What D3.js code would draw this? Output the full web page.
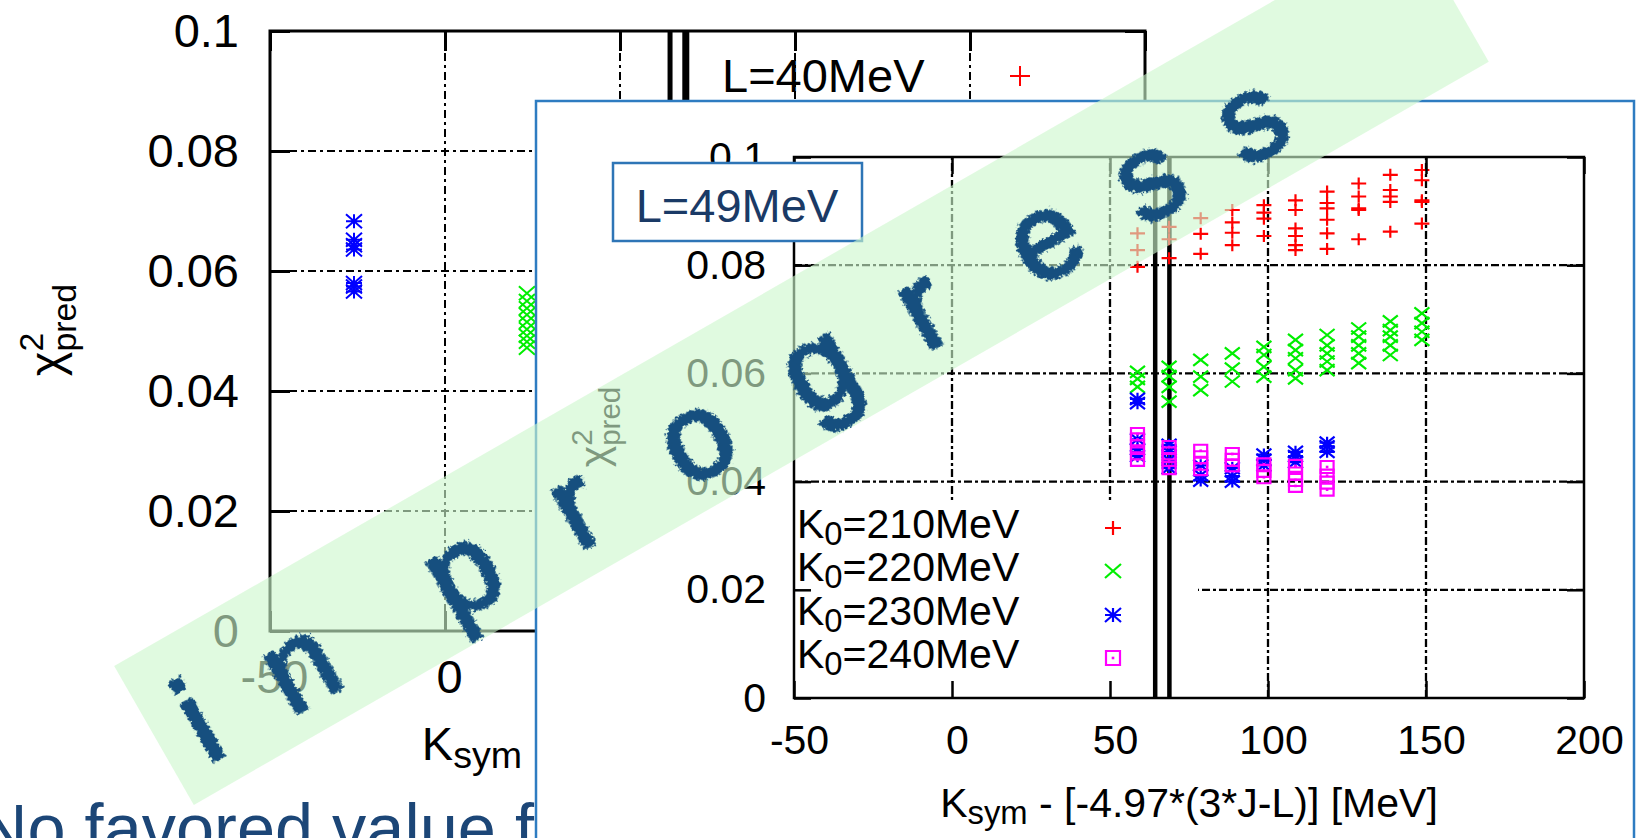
<!DOCTYPE html>
<html>
<head>
<meta charset="utf-8">
<script src="https://cdn.jsdelivr.net/npm/d3@7"></script>
<style>
  html, body { margin: 0; padding: 0; background: #fff; overflow: hidden; }
  svg { display: block; }
  text { font-family: "Liberation Sans", Arial, Helvetica, sans-serif; }
</style>
</head>
<body>
<svg id="slide" width="1641" height="838"></svg>
<script>
// ---------------- data ----------------
const tickValuesX = [-50, 0, 50, 100, 150, 200];
const tickLabelsX = ["-50", "0", "50", "100", "150", "200"];
const tickValuesY = [0, 0.02, 0.04, 0.06, 0.08, 0.1];
const tickLabelsY = ["0", "0.02", "0.04", "0.06", "0.08", "0.1"];
const refLines = [64.3, 68.8];            // the two vertical reference lines

// L=40MeV panel (mostly covered)
const backColumns = [-26, 23.4];
const backK230 = [0.0683, 0.0652, 0.0643, 0.0636, 0.0580, 0.0574, 0.0566];
const backK220 = [0.0563, 0.0550, 0.0538, 0.0527, 0.0515, 0.0503, 0.0492, 0.0482, 0.0472];

// L=49MeV panel
const ksymColumns = [58.7, 68.7, 78.7, 88.7, 98.7, 108.7, 118.7, 128.7, 138.7, 148.7];
const k210 = [
  [0.0859, 0.0828, 0.0797],
  [0.0871, 0.0848, 0.0813],
  [0.0887, 0.0858, 0.0821],
  [0.0902, 0.0879, 0.0860, 0.0837],
  [0.0911, 0.0897, 0.0886, 0.0854],
  [0.0920, 0.0902, 0.0868, 0.0854, 0.0837, 0.0828],
  [0.0936, 0.0915, 0.0905, 0.0884, 0.0859, 0.0830],
  [0.0951, 0.0927, 0.0905, 0.0902, 0.0848],
  [0.0967, 0.0939, 0.0927, 0.0917, 0.0862],
  [0.0976, 0.0957, 0.0920, 0.0917, 0.0877]
];
const k220 = [
  [0.0603, 0.0590, 0.0575],
  [0.0612, 0.0595, 0.0575, 0.0548],
  [0.0625, 0.0594, 0.0569],
  [0.0637, 0.0609, 0.0585],
  [0.0649, 0.0634, 0.0612, 0.0594],
  [0.0662, 0.0643, 0.0628, 0.0606, 0.0591],
  [0.0671, 0.0652, 0.0637, 0.0622, 0.0606],
  [0.0683, 0.0668, 0.0652, 0.0637, 0.0619],
  [0.0696, 0.0680, 0.0668, 0.0652, 0.0634],
  [0.0711, 0.0693, 0.0677, 0.0662]
];
const k230 = [
  [0.0553, 0.0545, 0.0478, 0.0460, 0.0447],
  [0.0468, 0.0455, 0.0440, 0.0425],
  [0.0430, 0.0412, 0.0402],
  [0.0425, 0.0410, 0.0400],
  [0.0450, 0.0440, 0.0430],
  [0.0455, 0.0447, 0.0436],
  [0.0472, 0.0465, 0.0455]
];
const k240 = [
  [0.0488, 0.0478, 0.0465, 0.0452, 0.0440],
  [0.0464, 0.0452, 0.0440, 0.0425],
  [0.0457, 0.0445, 0.0433, 0.0423],
  [0.0451, 0.0440, 0.0430],
  [0.0432, 0.0420, 0.0408],
  [0.0429, 0.0415, 0.0403, 0.0392],
  [0.0427, 0.0411, 0.0398, 0.0385]
];
const seriesK0 = ["210", "220", "230", "240"];
const seriesColors = ["#ff0000", "#00ee00", "#0000ff", "#ff00ff"];
const seriesShapes = ["plus", "cross", "star", "box"];

const bannerText = "in progress";
const bannerLetterPos = [45, 161, 255, 349, 479, 618, 759, 879, 1020, 1140, 1258];

// ---------------- helpers ----------------
function markerPath(shape, w, h) {
  const plus = `M${-w},0H${w}M0,${-h}V${h}`;
  const cross = `M${-w},${-h}L${w},${h}M${-w},${h}L${w},${-h}`;
  if (shape === "plus") return plus;
  if (shape === "cross") return cross;
  if (shape === "star") return plus + cross;
  return `M${-w},${-h}H${w}V${h}H${-w}Z`;
}
function drawMarker(g, shape, color, x, y, w, h, sw) {
  g.append("path")
    .attr("d", markerPath(shape, w, h))
    .attr("transform", `translate(${x},${y})`)
    .attr("fill", "none").attr("stroke", color).attr("stroke-width", sw);
  if (shape === "box") {
    g.append("rect").attr("x", x - 1.3).attr("y", y - 1.3).attr("width", 2.6).attr("height", 2.6).attr("fill", color);
  }
}
function styleAxis(g, fs, sw) {
  g.select(".domain").remove();
  g.attr("font-family", null).attr("font-size", null);
  g.selectAll(".tick line").attr("stroke", "#000").attr("stroke-width", sw);
  g.selectAll(".tick text").attr("font-size", fs).attr("fill", "#000");
}
function chiLabel(g, cx, cy, fs) {
  const t = g.append("text")
    .attr("transform", `translate(${cx},${cy}) rotate(-90)`)
    .attr("text-anchor", "middle").attr("font-size", fs).attr("fill", "#000");
  t.append("tspan").text("\u03C7");
  t.append("tspan").attr("font-size", "0.72em").attr("dy", "-0.55em").text("2");
  t.append("tspan").attr("font-size", "0.72em").attr("dx", "-0.56em").attr("dy", "0.95em").text("pred");
}
function ksymLabel(g, cx, y, fs) {
  const t = g.append("text").attr("x", cx).attr("y", y).attr("text-anchor", "middle")
    .attr("font-size", fs).attr("fill", "#000");
  t.append("tspan").text("K");
  t.append("tspan").attr("font-size", "0.8em").attr("dy", "0.22em").text("sym");
  t.append("tspan").attr("dy", "-0.18em").text(" - [-4.97*(3*J-L)] [MeV]");
}
function drawGrid(g, x, y, dash, sw) {
  const grid = g.append("g").attr("stroke", "#000").attr("stroke-width", sw)
    .attr("stroke-dasharray", dash).attr("fill", "none");
  grid.selectAll("line.gh").data(tickValuesY.slice(1, -1)).join("line").attr("class", "gh")
    .attr("x1", x(-50)).attr("x2", x(200)).attr("y1", d => y(d)).attr("y2", d => y(d));
  grid.selectAll("line.gv").data(tickValuesX.slice(1, -1)).join("line").attr("class", "gv")
    .attr("y1", y(0)).attr("y2", y(0.1)).attr("x1", d => x(d)).attr("x2", d => x(d));
}
function drawFrameAxes(g, x, y, o) {
  g.append("rect").attr("x", x(-50)).attr("y", y(0.1))
    .attr("width", x(200) - x(-50)).attr("height", y(0) - y(0.1))
    .attr("fill", "none").attr("stroke", "#000").attr("stroke-width", o.frame);
  const left = g.append("g").attr("transform", `translate(${x(-50)},0)`)
    .call(d3.axisLeft(y).tickValues(tickValuesY).tickFormat((d, i) => tickLabelsY[i])
      .tickSizeInner(-o.tick).tickSizeOuter(0).tickPadding(o.padY));
  styleAxis(left, o.fs, o.tickW);
  const right = g.append("g").attr("transform", `translate(${x(200)},0)`)
    .call(d3.axisRight(y).tickValues(tickValuesY).tickFormat("").tickSizeInner(-o.tick).tickSizeOuter(0));
  styleAxis(right, o.fs, o.tickW);
  const bottom = g.append("g").attr("transform", `translate(0,${y(0)})`)
    .call(d3.axisBottom(x).tickValues(tickValuesX).tickFormat((d, i) => tickLabelsX[i])
      .tickSizeInner(-o.tick).tickSizeOuter(0).tickPadding(o.padX));
  styleAxis(bottom, o.fs, o.tickW);
  bottom.selectAll(".tick text").attr("dx", o.dxX);
  const top = g.append("g").attr("transform", `translate(0,${y(0.1)})`)
    .call(d3.axisTop(x).tickValues(tickValuesX).tickFormat("").tickSizeInner(-o.tick).tickSizeOuter(0));
  styleAxis(top, o.fs, o.tickW);
}

const svg = d3.select("#slide");
const defs = svg.append("defs");
const rough = defs.append("filter").attr("id", "rough")
  .attr("x", "-20%").attr("y", "-20%").attr("width", "140%").attr("height", "140%");
rough.append("feTurbulence").attr("type", "fractalNoise").attr("baseFrequency", 0.35)
  .attr("numOctaves", 2).attr("seed", 7).attr("result", "noise");
rough.append("feDisplacementMap").attr("in", "SourceGraphic").attr("in2", "noise")
  .attr("scale", 8).attr("xChannelSelector", "R").attr("yChannelSelector", "G");

// ---------------- slide text ----------------
svg.append("text").attr("x", -22).attr("y", 852).attr("font-size", 68.5).attr("fill", "#1c4677")
  .text("No favored value for");

// ---------------- L=40MeV chart (behind) ----------------
const xB = d3.scaleLinear().domain([-50, 200]).range([270, 1145]);
const yB = d3.scaleLinear().domain([0, 0.1]).range([631, 31]);
const back = svg.append("g");
drawGrid(back, xB, yB, "8,4,3,4", 2);
refLines.forEach((v, i) => {
  back.append("line").attr("x1", xB(v)).attr("x2", xB(v)).attr("y1", yB(0)).attr("y2", yB(0.1))
    .attr("stroke", "#000").attr("stroke-width", i === 0 ? 5 : 7);
});
backK230.forEach(v => drawMarker(back, "star", "#0000ff", xB(backColumns[0]), yB(v), 8, 7, 2));
backK220.forEach(v => drawMarker(back, "cross", "#00ee00", xB(backColumns[1]), yB(v), 8, 7, 2));
drawFrameAxes(back, xB, yB, { frame: 3, tick: 20, tickW: 3, fs: 47, padY: 31, padX: 29, dxX: 4 });
chiLabel(back, 62, 330, 47);
ksymLabel(back, 707, 760, 47);
back.append("text").attr("x", 722).attr("y", 92).attr("font-size", 47).attr("fill", "#000").text("L=40MeV");
drawMarker(back, "plus", "#ff0000", 1020, 76, 10, 10, 2);

// ---------------- L=49MeV chart (front panel) ----------------
svg.append("rect").attr("x", 536).attr("y", 101).attr("width", 1098).attr("height", 780)
  .attr("fill", "#fff").attr("stroke", "#2e7cc1").attr("stroke-width", 2.5);

const xF = d3.scaleLinear().domain([-50, 200]).range([794, 1584]);
const yF = d3.scaleLinear().domain([0, 0.1]).range([698, 157]);
const front = svg.append("g");
drawGrid(front, xF, yF, "8,3,3,3", 2.3);
// key area keeps the grid clear
front.append("rect").attr("x", 795).attr("y", 503).attr("width", 403).attr("height", 194).attr("fill", "#fff");
refLines.forEach(v => {
  front.append("line").attr("x1", xF(v)).attr("x2", xF(v)).attr("y1", yF(0)).attr("y2", yF(0.1))
    .attr("stroke", "#000").attr("stroke-width", 4.5);
});
[k210, k220, k230, k240].forEach((series, s) => {
  const g = front.append("g");
  series.forEach((col, c) => col.forEach(v =>
    drawMarker(g, seriesShapes[s], seriesColors[s], xF(ksymColumns[c]), yF(v),
      s === 3 ? 6.5 : 7.5, 6, 2.2)));
});
drawFrameAxes(front, xF, yF, { frame: 2.5, tick: 17, tickW: 2.5, fs: 41, padY: 28, padX: 27, dxX: 5 });
chiLabel(front, 608, 427, 41);
ksymLabel(front, 1189, 817, 41);

// key
const keyBase = [538, 581, 625, 668];
seriesK0.forEach((k, i) => {
  const t = front.append("text").attr("x", 797).attr("y", keyBase[i]).attr("font-size", 41).attr("fill", "#000");
  t.append("tspan").text("K");
  t.append("tspan").attr("font-size", "0.8em").attr("dy", "0.22em").text("0");
  t.append("tspan").attr("dy", "-0.18em").text(`=${k}MeV`);
  drawMarker(front, seriesShapes[i], seriesColors[i], 1113, keyBase[i] - 10, i === 3 ? 7 : 8, 7, 2.2);
});

// L=49MeV tag
svg.append("rect").attr("x", 613).attr("y", 163).attr("width", 249).attr("height", 78)
  .attr("fill", "#fff").attr("stroke", "#2e75b6").attr("stroke-width", 2.5);
svg.append("text").attr("x", 737).attr("y", 222).attr("text-anchor", "middle")
  .attr("font-size", 47).attr("fill", "#1a3a66").text("L=49MeV");

// ---------------- "in progress" banner ----------------
const banner = svg.append("g").attr("transform", "translate(154,735.5) rotate(-29.85)");
banner.append("rect").attr("x", 0).attr("y", -80).attr("width", 1493).attr("height", 160)
  .attr("fill", "#cdf7cd").attr("opacity", 0.62);
banner.append("text")
  .attr("x", bannerLetterPos.join(" ")).attr("y", 52)
  .attr("text-anchor", "middle")
  .attr("font-family", "DejaVu Sans").attr("font-size", 122)
  .attr("fill", "#14507f").attr("stroke", "#14507f").attr("stroke-width", 3.5)
  .attr("stroke-linejoin", "round").attr("filter", "url(#rough)")
  .text(bannerText);
</script>
</body>
</html>
